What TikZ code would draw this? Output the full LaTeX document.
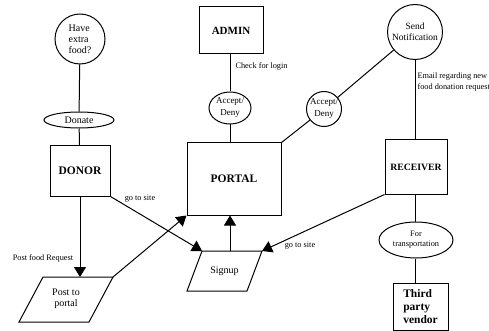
\documentclass[tikz,border=0pt]{standalone}
\usepackage{fontspec}
\setmainfont{Liberation Serif}
\usetikzlibrary{shapes.geometric,arrows.meta}
\begin{document}
\begin{tikzpicture}[x=1pt,y=-1pt,
  every path/.style={line width=1pt},
  shp/.style={draw, line width=1pt, inner sep=0pt},
  boxn/.style={shp, rectangle, font=\bfseries\fontsize{11.5}{13}\selectfont},
  circn/.style={shp, circle},
  elln/.style={shp, ellipse},
  lab/.style={inner sep=0pt, font=\fontsize{8.3}{11}\selectfont},
  arr/.style={-{Triangle[width=12pt,length=10pt]}}
]
\useasboundingbox (0,0) rectangle (489,331);

% nodes
\node[circn, minimum size=50pt, align=left, font=\fontsize{10}{11}\selectfont] (food) at (80,39) {Have\\extra\\food?};
\node[elln, minimum width=70pt, minimum height=16pt, font=\fontsize{10}{11}\selectfont] (donate) at (79,120) {Donate};
\node[boxn, minimum width=60pt, minimum height=50pt] (donor) at (80,171) {DONOR};
\node[boxn, minimum width=94pt, minimum height=72pt] (portal) at (234,179) {PORTAL};
\node[boxn, minimum width=64pt, minimum height=47pt, font=\bfseries\fontsize{11}{13}\selectfont] (admin) at (231,30.5) {ADMIN};
\node[elln, minimum width=42pt, minimum height=32pt, align=center, font=\fontsize{9}{12}\selectfont] (acc1) at (230,108) {Accept/\\Deny};
\node[circn, minimum size=35pt, align=center, font=\fontsize{9}{12}\selectfont] (acc2) at (324,109) {Accept/\\Deny};
\node[circn, minimum size=55pt, align=center, font=\fontsize{9.5}{11}\selectfont] (notif) at (415,32) {Send\\Notification};
\node[boxn, minimum width=62pt, minimum height=54pt, font=\bfseries\fontsize{9.7}{12}\selectfont] (receiver) at (416,167) {RECEIVER};
\node[elln, minimum width=74pt, minimum height=36pt, align=center, font=\fontsize{8.3}{10}\selectfont] (transp) at (416,240) {For\\transportation};
\node[boxn, minimum width=55pt, minimum height=47pt, align=left] (vendor) at (420.5,306.5) {Third\\party\\vendor};

% parallelograms
\coordinate (postTL) at (43,277);
\coordinate (postTR) at (113,277);
\coordinate (postBR) at (89,322);
\coordinate (postBL) at (19,322);
\draw (postTL) -- (postTR) -- (postBR) -- (postBL) -- cycle;
\node[inner sep=0pt, align=center, font=\fontsize{10}{11}\selectfont] (post) at (66,299) {Post to\\portal};

\coordinate (signTL) at (202,251);
\coordinate (signTR) at (262,251);
\coordinate (signBR) at (247,291);
\coordinate (signBL) at (187,291);
\coordinate (signTop) at (230,251);
\draw (signTL) -- (signTR) -- (signBR) -- (signBL) -- cycle;
\node[inner sep=0pt, font=\fontsize{10}{11}\selectfont] (signup) at (224.5,271) {Signup};

% connectors
\draw (food) -- (donate);
\draw (donate) -- (donor);
\draw[arr] (donor.south) -- (donor.south |- postTL);
\draw[arr] (postTR) -- (portal.south west);
\draw[arr] (donor.south east) -- (signTL);
\draw[arr] (receiver.south west) -- (signTR);
\draw[arr] (signTop) -- (signTop |- portal.south);
\draw (admin.south -| acc1.north) -- (acc1.north);
\draw (acc1.south) -- (acc1.south |- portal.north);
\draw (notif) -- (acc2);
\draw (acc2) -- (portal.north east);
\draw (notif.south) -- (notif.south |- receiver.north);
\draw (receiver.south -| notif.south) -- (notif.south |- transp.north);
\draw (notif.south |- transp.south) -- (notif.south |- vendor.north);

% labels
\node[lab, anchor=west] (lcheck) at (235,66) {Check for login};
\node[lab] (lgo1) at (140,199) {go to site};
\node[lab] (lpost) at (43,258) {Post food Request};
\node[lab] (lgo2) at (300,246) {go to site};
\node[lab, anchor=west, align=left] (lemail) at (417,82.5) {Email regarding new\\food donation request};
\end{tikzpicture}
\end{document}
